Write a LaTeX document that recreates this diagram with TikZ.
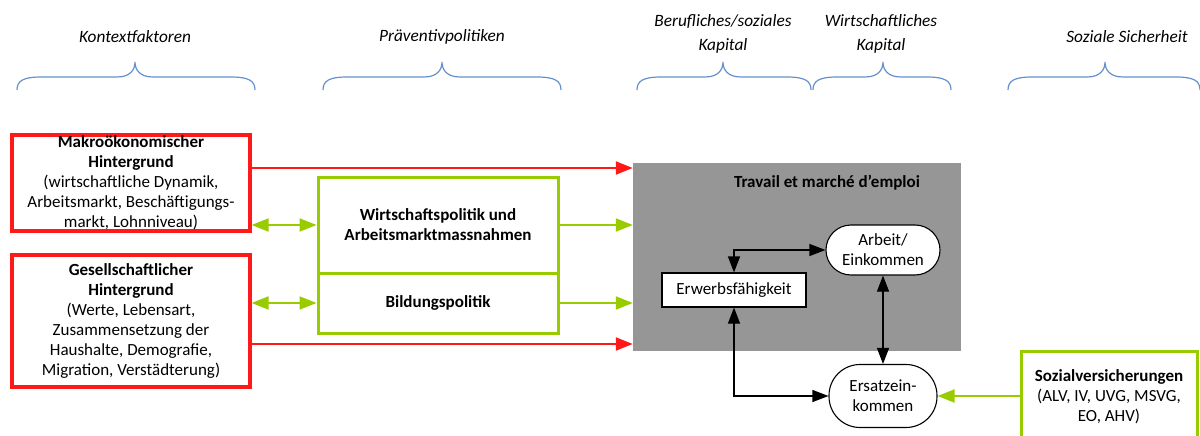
\documentclass[tikz,border=0pt]{standalone}
\usepackage{fontspec}
\setmainfont{Carlito}
\usetikzlibrary{arrows.meta,calc}
\definecolor{boxred}{RGB}{255,25,25}
\definecolor{lime}{RGB}{153,204,0}
\definecolor{panel}{RGB}{150,150,150}
\definecolor{braceblue}{RGB}{100,145,205}

% curly bracket above a column: left end, tip, right end
\newcommand\colbrace[3]{%
  \draw[bracket] (#1,90) .. controls (#1,81) and (#1+6,77) .. (#1+24,77)
    -- (#2-18,77) .. controls (#2-5,77) and (#2,70) .. (#2,62)
    .. controls (#2,70) and (#2+5,77) .. (#2+18,77)
    -- (#3-24,77) .. controls (#3-6,77) and (#3,81) .. (#3,90);}

\begin{document}
\begin{tikzpicture}[x=1pt,y=-1pt,
  font=\fontsize{17}{20}\selectfont,
  bracket/.style={draw=braceblue, line width=1.2pt},
  headtext/.style={font=\fontsize{17.3}{24}\selectfont\itshape, align=center, inner sep=0pt},
  redbox/.style={draw=boxred, line width=3.2pt, fill=white, align=center, inner sep=0pt},
  limebox/.style={draw=lime, line width=3pt, fill=white, align=center, inner sep=0pt},
  stadium/.style={draw=black, line width=1.1pt, fill=white, align=center, inner sep=0pt, rounded corners=#1},
  plainbox/.style={draw=black, line width=1.1pt, fill=white, align=center, inner sep=0pt},
  redarrow/.style={draw=boxred, line width=2pt, -{Triangle[length=17pt,width=13pt]}},
  limearrow/.style={draw=lime, line width=2pt, -{Triangle[length=17pt,width=13pt]}},
  limebiarrow/.style={draw=lime, line width=2pt, {Triangle[length=17pt,width=13pt]}-{Triangle[length=17pt,width=13pt]}},
  blackbiarrow/.style={draw=black, line width=1.1pt, {Triangle[length=16pt,width=12pt]}-{Triangle[length=16pt,width=12pt]}},
]
\useasboundingbox (0,0) rectangle (1200,436);

% column headings
\node[headtext] (kf) at (135,37) {Kontextfaktoren};
\node[headtext] (pv) at (442,37) {Präventivpolitiken};
\node[headtext] (bk) at (723,34) {Berufliches/soziales\\Kapital};
\node[headtext] (wk) at (881,34) {Wirtschaftliches\\Kapital};
\node[headtext] (ss) at (1127,37) {Soziale Sicherheit};

\colbrace{17}{135}{255}
\colbrace{323}{442}{561}
\colbrace{637}{723}{811}
\colbrace{813}{883}{951}
\colbrace{1008}{1105}{1200}

% context factors
\node[redbox, minimum width=238, minimum height=96] (makro) at (131,183)
  {\textbf{Makroökonomischer}\\\textbf{Hintergrund}\\(wirtschaftliche Dynamik,\\Arbeitsmarkt, Beschäftigungs-\\markt, Lohnniveau)};
\node[redbox, minimum width=238, minimum height=132] (gesell) at (131,321)
  {\textbf{Gesellschaftlicher}\\\textbf{Hintergrund}\\(Werte, Lebensart,\\Zusammensetzung der\\Haushalte, Demografie,\\Migration, Verstädterung)};

% prevention policies
\node[limebox, minimum width=240, minimum height=96] (wp) at (438,225)
  {\textbf{Wirtschaftspolitik und}\\\textbf{Arbeitsmarktmassnahmen}};
\node[limebox, minimum width=240, minimum height=60] (bp) at (438,303)
  {\textbf{Bildungspolitik}};

% labour market panel
\node[fill=panel, minimum width=328, minimum height=188, inner sep=0pt] (panel) at (797,257) {};
\node[font=\fontsize{17}{20}\selectfont\bfseries, inner sep=0pt] (title) at (827,183) {Travail et marché d’emploi};
\node[stadium=25pt, minimum width=114, minimum height=50] (arbeit) at (883,250) {Arbeit/\\Einkommen};
\node[plainbox, minimum width=144, minimum height=34] (erwerb) at (734,290) {Erwerbsfähigkeit};
\node[stadium=31pt, minimum width=108, minimum height=63] (ersatz) at (883,396) {Ersatzein-\\kommen};

% social security
\node[limebox, minimum width=176, minimum height=92] (sozial) at (1109,397)
  {\textbf{Sozialversicherungen}\\(ALV, IV, UVG, MSVG,\\EO, AHV)};

% connector heights
\coordinate (ra) at (0,168);
\coordinate (ga) at (0,225);
\coordinate (gb) at (0,303);
\coordinate (rb) at (0,344);

\draw[redarrow] (makro.east |- ra) -- (panel.west |- ra);
\draw[redarrow] (gesell.east |- rb) -- (panel.west |- rb);
\draw[limebiarrow] (makro.east |- ga) -- (wp.west |- ga);
\draw[limebiarrow] (gesell.east |- gb) -- (bp.west |- gb);
\draw[limearrow] (wp.east |- ga) -- (panel.west |- ga);
\draw[limearrow] (bp.east |- gb) -- (panel.west |- gb);

\draw[blackbiarrow] (erwerb.north) |- (arbeit.west);
\draw[blackbiarrow] (erwerb.south) |- (ersatz.west);
\draw[blackbiarrow] (arbeit.south) -- (ersatz.north);
\draw[limearrow] (sozial.west |- ersatz.east) -- (ersatz.east);
\end{tikzpicture}
\end{document}
